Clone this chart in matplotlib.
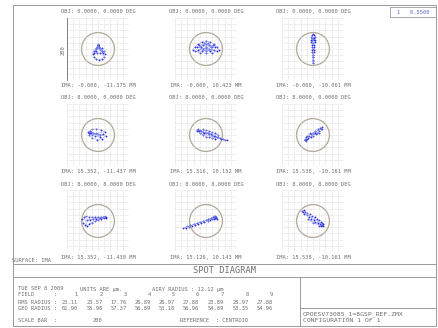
import matplotlib
matplotlib.use('Agg')
import matplotlib.pyplot as plt
from matplotlib.patches import Circle, Rectangle
from matplotlib.lines import Line2D

# ---------------- data ----------------
obj_labels = [
    ["OBJ: 0.0000, 0.0000 DEG", "OBJ: 0.0000, 0.0000 DEG", "OBJ: 0.0000, 0.0000 DEG"],
    ["OBJ: 8.0000, 0.0000 DEG", "OBJ: 8.0000, 0.0000 DEG", "OBJ: 8.0000, 0.0000 DEG"],
    ["OBJ: 8.0000, 8.0000 DEG", "OBJ: 8.0000, 8.0000 DEG", "OBJ: 8.0000, 8.0000 DEG"],
]
ima_labels = [
    ["IMA: -0.000, -11.375 MM", "IMA: -0.000, 10.423 MM", "IMA: -0.000, -10.061 MM"],
    ["IMA: 15.352, -11.437 MM", "IMA: 15.316, 10.152 MM", "IMA: 15.538, -10.161 MM"],
    ["IMA: 15.352, -11.430 MM", "IMA: 15.126, 10.143 MM", "IMA: 15.538, -10.161 MM"],
]
scale_bar = 200          # um across the box
airy_circle = 53         # drawn circle radius (um)

# spot points (um), one pair of lists per field
spot1_x = [0, 1, -1, 0, 1, -1, 0, 1, -1, 23, 20, 13, 3, -7, -14, -17, -14, -7, 3, 13, 20,
           -3, -6, -10, -13, 3, 7, 12, 17, 12, 7, -3, -8, -3, 7]
spot1_y = [13, 14, 12, 11, 12, 14, 15, 13, 13, -15, -5, 2, 5, 2, -5, -15, -25, -32, -35, -32, -25,
           6, -1, -8, -13, 6, -1, -7, -12, -5, 3, 3, -5, -13, -13]
spot2_x = [-43, -35, -25, -12, 0, 12, 25, 35, 42, -35, -20, 0, 20, 35, -20, -10, 0, 10, 20,
           -25, -10, 0, 10, 25, 0, -12, 12, -30, -15, 0, 15, 30, -5, 5, -22, 22]
spot2_y = [-3, 8, 16, 23, 27, 23, 16, 8, -3, -8, -12, -14, -12, -8, 5, 12, 15, 12, 5,
           -2, 0, 3, 0, -2, -5, -6, -6, 8, 8, 8, 8, 8, 20, 20, 12, 12]
spot3_x = [0, -3, 3, -5, 5, -6, 6, -5, 5, -4, 4, -3, 3, -2, 2, -2, 2, -1, 1, -1, 1, 0, 0, 0,
           0, 0, 0, -2, 2, -3, 3]
spot3_y = [50, 45, 45, 38, 38, 30, 30, 22, 22, 14, 14, 6, 6, -2, -2, -10, -10, -18, -18, -26, -26,
           -34, -40, -46, 0, 20, 35, 28, 28, 34, 34]
spot4_x = [-32, -20, -5, 10, 22, -30, -18, -2, 12, 25, -28, -25, -22, -15, -8, 0, 8, 15, -20,
           -10, 5, -26, -29, -30, -27, -24]
spot4_y = [10, 18, 20, 17, 10, 0, -10, -15, -12, -3, 8, 5, 10, 8, 5, 2, 0, 3, 0,
           -3, -6, 12, 6, 9, 11, 7]
spot5_x = [-30, -27, -25, -22, -20, -15, -10, -5, 0, 5, 10, 15, 20, 25, 30, 35, 40, 45, 50, 55,
           60, 67, -20, -10, 0, 10, 20, 30, -10, 0, 10, 20, 30, 40, -28, -26, -24]
spot5_y = [17, 15, 18, 13, 16, 12, 10, 8, 7, 5, 4, 2, 0, -2, -4, -6, -8, -10, -12, -13,
           -15, -17, 5, 0, -5, -8, -10, -12, 18, 15, 12, 9, 5, 0, 14, 16, 13]
spot6_x = [-27, -25, -23, -20, -22, -15, -12, -8, -5, 0, 0, 5, 8, 12, 15, 18, 22, 25, 30, 28,
           -18, -10, 10, 20, -26, -24, -22]
spot6_y = [-17, -15, -18, -12, -8, -10, -3, -8, 2, -2, 8, 5, 12, 8, 18, 12, 22, 18, 27, 20,
           -2, 5, 2, 8, -14, -16, -13]
spot7_x = [-50, -48, -42, -35, -45, -38, -30, -20, -10, 0, 10, 20, 23, 25, -30, -20, -10, 0, 10,
           20, -35, -25, -15, -5, 5, 15, 22, 24, 26, 20]
spot7_y = [5, -5, -12, -15, 12, 15, 12, 13, 13, 13, 13, 13, 13, 12, -10, -5, -1, 3, 7,
           11, 3, 4, 6, 8, 10, 12, 12, 14, 11, 14]
spot8_x = [33, 30, 28, 25, 22, 20, 15, 12, 8, 5, 0, -5, -10, -15, -20, -25, -30, -35, -40, -45,
           -50, -55, -60, -65, -73, 30, 35, 26, 31, 29]
spot8_y = [12, 10, 14, 8, 12, 6, 9, 3, 6, 0, 3, -3, 0, -6, -3, -9, -7, -12, -10, -15,
           -14, -18, -17, -21, -23, 15, 8, 16, 11, 13]
spot9_x = [-37, -33, -30, -28, -25, -20, -18, -12, -10, -5, -3, 2, 5, 8, 12, 15, 18, 22, 25, 28,
           30, 33, 30, 26, -15, 0, 20, 31, 29]
spot9_y = [33, 28, 35, 22, 30, 18, 26, 12, 22, 8, 16, 3, 12, -2, 6, -6, 2, -10, -3, -12,
           -8, -17, -14, -15, 5, -5, -15, -11, -13]
spots_x = [[spot1_x, spot2_x, spot3_x], [spot4_x, spot5_x, spot6_x], [spot7_x, spot8_x, spot9_x]]
spots_y = [[spot1_y, spot2_y, spot3_y], [spot4_y, spot5_y, spot6_y], [spot7_y, spot8_y, spot9_y]]

fields = [1, 2, 3, 4, 5, 6, 7, 8, 9]
rms_radius = [23.11, 23.57, 17.76, 26.89, 26.97, 27.88, 23.89, 25.97, 27.88]
geo_radius = [61.90, 55.98, 57.37, 56.89, 53.18, 56.96, 54.89, 53.35, 54.96]
date_text = "TUE SEP 8 2009"
units_text = "UNITS ARE \u00b5m."
airy_text = "AIRY RADIUS : 12.12 \u00b5m"
file_text = "CPOESV73085_1=8GSP_REF.ZMX"
config_text = "CONFIGURATION 1 OF 1"
wavelength_text = "1   0.5500"

# ---------------- layout ----------------
W, H = 439, 328
fig = plt.figure(figsize=(W / 100, H / 100), dpi=100)
fig.patch.set_facecolor('white')

def fx(x):
    return x / W

def fy(y):
    return 1 - y / H

TXT = '#6e6e6e'
LINE = '#9a9a9a'
MONO = 'DejaVu Sans Mono'

def hline(x0, x1, y, c=LINE, lw=0.7):
    fig.add_artist(Line2D([fx(x0), fx(x1)], [fy(y), fy(y)], transform=fig.transFigure, color=c, lw=lw))

def vline(x, y0, y1, c=LINE, lw=0.7):
    fig.add_artist(Line2D([fx(x), fx(x)], [fy(y0), fy(y1)], transform=fig.transFigure, color=c, lw=lw))

def txt(x, y, s, size=3.9, ha='left', color=TXT, **kw):
    fig.text(fx(x), fy(y), s, fontsize=size, ha=ha, va='center', color=color, family=MONO, **kw)

col_cx = [98, 206, 313]
row_cy = [49, 135, 221]
box = 62

for r in range(3):
    for c in range(3):
        cx, cy = col_cx[c], row_cy[r]
        ax = fig.add_axes([fx(cx - box / 2), fy(cy + box / 2), box / W, box / H])
        half = scale_bar / 2
        ax.set_xlim(-half, half)
        ax.set_ylim(-half, half)
        ticks = [-100, -80, -60, -40, -20, 0, 20, 40, 60, 80, 100]
        ax.set_xticks(ticks)
        ax.set_yticks(ticks)
        ax.grid(True, color='#cfcfcf', lw=0.45, ls=(0, (1, 1)))
        ax.tick_params(length=0, labelbottom=False, labelleft=False)
        for s in ax.spines.values():
            s.set_visible(False)
        ax.set_facecolor('none')
        ax.add_patch(Circle((0, 0), airy_circle, fill=False, ec='#b0a696', lw=0.9))
        ax.plot(spots_x[r][c], spots_y[r][c], color='#7f8cf0', lw=0.35, alpha=0.8)
        ax.scatter(spots_x[r][c], spots_y[r][c], s=4, marker='+', c='#2323d8', linewidths=0.55)
        txt(cx, cy - 37, obj_labels[r][c], ha='center')
        txt(cx, cy + 37, ima_labels[r][c], ha='center')

# scale bar
vline(67, 18, 80, c='#707070', lw=0.6)
fig.text(fx(63), fy(50), str(scale_bar), fontsize=3.9, rotation=90, ha='center', va='center',
         color=TXT, family=MONO)

# wavelength legend box
fig.add_artist(Rectangle((fx(390), fy(17)), 46 / W, 10 / H, transform=fig.transFigure,
                         fill=False, ec=LINE, lw=0.6))
txt(413, 12, wavelength_text, ha='center', color='#5a6ad0')

# frame
hline(13, 436, 5)
vline(13, 5, 326)
vline(436, 5, 326)
hline(13, 436, 264)
hline(13, 436, 277)
hline(13, 436, 326)
vline(300, 277, 326)
hline(300, 436, 308)
txt(12, 260, "SURFACE: IMA")
txt(224.5, 270.5, "SPOT DIAGRAM", size=6.2, ha='center')

# bottom text
txt(18, 289, date_text)
txt(80, 289, units_text)
txt(152, 289, airy_text)
field_x = [72, 97, 121, 145, 169, 193, 218, 243, 267]
txt(18, 295, "FIELD      :")
txt(18, 302, "RMS RADIUS :")
txt(18, 309, "GEO RADIUS :")
for i in range(len(fields)):
    txt(field_x[i] + 6, 295, str(fields[i]), ha='right')
    txt(field_x[i] + 6, 302, "%.2f" % rms_radius[i], ha='right')
    txt(field_x[i] + 6, 309, "%.2f" % geo_radius[i], ha='right')
txt(18, 321, "SCALE BAR  :")
txt(97, 321, str(scale_bar), ha='center')
txt(180, 321, "REFERENCE  : CENTROID")
txt(303, 314, file_text, size=4.6)
txt(303, 321, config_text, size=4.6)

fig.savefig('out.png', dpi=100, facecolor='white')
